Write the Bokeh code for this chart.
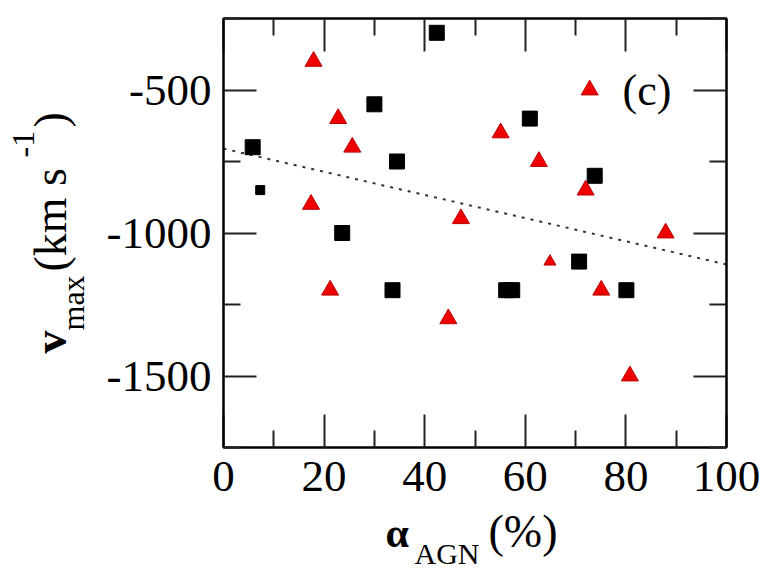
import math
from bokeh.plotting import figure
from bokeh.models import Range1d, FixedTicker, LinearAxis, CustomJSTickFormatter
from bokeh.core.properties import value
from bokeh.embed import file_html
from bokeh.resources import INLINE

# ---- data ----
sq_x = [42.4, 30.0, 5.8, 34.5, 23.6, 60.9, 73.8, 33.6, 56.2, 57.4, 70.7, 80.1]
sq_y = [-300, -550, -700, -750, -1000, -600, -800, -1200, -1200, -1200, -1100, -1200]
sq_small_x = [7.3]
sq_small_y = [-850]

tri_x = [17.9, 22.8, 25.6, 17.4, 47.2, 55.1, 72.8, 62.7, 72.0, 87.9, 75.1, 80.8, 21.2, 44.7]
tri_y = [-400, -600, -700, -900, -950, -650, -500, -750, -850, -1000, -1200, -1500, -1200, -1300]
tri_small_x = [64.9]
tri_small_y = [-1100]

fit_x = [0, 100]
fit_y = [-705, -1110]

x_ticks = [0, 20, 40, 60, 80, 100]
x_minor = [10, 30, 50, 70, 90]
y_ticks = [-1500, -1000, -500]
y_minor = [-1750, -1250, -750, -250]

X_MIN, X_MAX = 0, 100
Y_MIN, Y_MAX = -1750, -250

# ---- layout ----
W, H = 769, 571
FL, FR, FT, FB = 223, 726, 18, 447   # frame edges in page pixels

def dx(px):  # page pixel -> data x
    return X_MIN + (px - FL) * (X_MAX - X_MIN) / (FR - FL)

def dy(py):  # page pixel -> data y
    return Y_MAX - (py - FT) * (Y_MAX - Y_MIN) / (FB - FT)

FONT = "Liberation Serif"

p = figure(width=W, height=H, x_range=Range1d(X_MIN, X_MAX), y_range=Range1d(Y_MIN, Y_MAX),
           output_backend="svg", toolbar_location=None,
           min_border_left=FL, min_border_right=W - FR, min_border_top=FT, min_border_bottom=H - FB)
p.background_fill_color = "white"
p.border_fill_color = "white"
p.outline_line_color = "black"
p.outline_line_width = 2
p.xgrid.visible = False
p.ygrid.visible = False

def style_axis(ax, ticks, minor, labels=True):
    ax.ticker = FixedTicker(ticks=ticks, minor_ticks=minor)
    ax.axis_line_color = "black"
    ax.axis_line_width = 2
    ax.major_tick_in = 33
    ax.major_tick_out = 0
    ax.minor_tick_in = 17
    ax.minor_tick_out = 0
    ax.major_tick_line_width = 2
    ax.minor_tick_line_width = 2
    ax.major_tick_line_color = "#222222"
    ax.minor_tick_line_color = "#222222"
    ax.major_label_text_font = FONT
    ax.major_label_text_font_size = "45px"
    ax.major_label_text_color = "black"
    if labels:
        ax.formatter = CustomJSTickFormatter(code="return String(tick)")
    else:
        ax.formatter = CustomJSTickFormatter(code="return ''")

style_axis(p.xaxis[0], x_ticks, x_minor)
p.xaxis[0].major_label_standoff = 14
style_axis(p.yaxis[0], y_ticks, y_minor)
p.yaxis[0].major_label_standoff = 12

top = LinearAxis()
style_axis(top, x_ticks, x_minor, labels=False)
p.add_layout(top, "above")
right = LinearAxis()
style_axis(right, y_ticks, y_minor, labels=False)
p.add_layout(right, "right")

# fit line
p.line(fit_x, fit_y, line_dash="3 6", line_width=2, line_color="#333333")

# markers
p.scatter(sq_x, sq_y, marker="square", size=15, fill_color="black", line_color="black")
p.scatter(sq_small_x, sq_small_y, marker="square", size=9, fill_color="black", line_color="black")
p.scatter(tri_x, tri_y, marker="triangle", size=17, fill_color="#ee0000", line_color="#bb0000")
p.scatter(tri_small_x, tri_small_y, marker="triangle", size=12, fill_color="#ee0000", line_color="#bb0000")

def lab(px, py, txt, size, bold=False, angle=0.0):
    shift = 0.33 * size  # baseline correction (px)
    if angle:
        px -= shift
    else:
        py -= shift
    p.text(x=[dx(px)], y=[dy(py)], text=[txt], text_font=value(FONT), text_font_size=value(f"{size}px"),
           text_font_style="bold" if bold else "normal", angle=angle,
           text_align="left", text_baseline="alphabetic", text_color="black", level="overlay")

# panel tag
lab(622, 105, "(c)", 44)

# x axis label pieces
lab(385, 546, "α", 42, bold=True)
lab(414, 563, "AGN", 30)
lab(488, 546, "(%)", 46)

# y axis label pieces (rotated)
A = math.pi / 2
lab(65, 353, "v", 46, bold=True, angle=A)
lab(83, 330, "max", 32, angle=A)
lab(65, 271, "(km s", 46, angle=A)
lab(34, 157, "-1", 32, angle=A)
lab(65, 127, ")", 46, angle=A)

open("out.html", "w").write(file_html(p, INLINE))
